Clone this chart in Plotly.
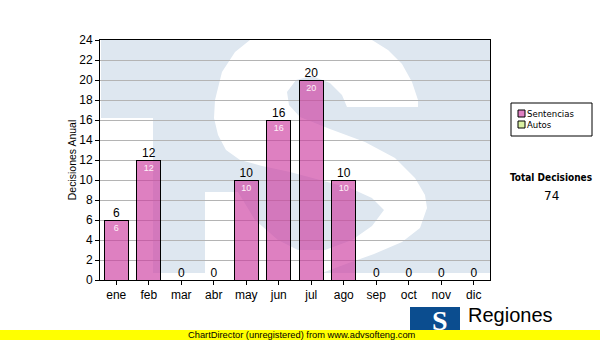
import plotly.graph_objects as go

# ---- data ----
months = ["ene", "feb", "mar", "abr", "may", "jun", "jul", "ago", "sep", "oct", "nov", "dic"]
sentencias = [6, 12, 0, 0, 10, 16, 20, 10, 0, 0, 0, 0]
autos = [0, 0, 0, 0, 0, 0, 0, 0, 0, 0, 0, 0]
y_ticks = list(range(0, 25, 2))
series_names = ["Sentencias", "Autos"]
total_label = "Total Decisiones"
y_title = "Decisiones Anual"

totals = [s + a for s, a in zip(sentencias, autos)]
grand_total = sum(totals)

# ---- geometry helpers (page pixels -> paper coords) ----
L, R, T, B = 100, 490, 40, 280
W, H = 600, 340


def PX(px):
    return (px - L) / (R - L)


def PY(py):
    return (B - py) / (B - T)


def path(points):
    return "M " + " L ".join(f"{PX(x):.4f},{PY(y):.4f}" for x, y in points) + " Z"


LIGHT = "#dee7f0"
PINK = "rgba(205,60,160,0.65)"
PINK_SOLID = "#de80c1"
GREEN = "#d9f0a3"
FONT = "Liberation Sans, Arial"
FONT2 = "DejaVu Sans Condensed, DejaVu Sans"

fig = go.Figure()

fig.add_trace(go.Bar(
    x=months, y=sentencias, name=series_names[0], showlegend=False,
    marker=dict(color=PINK, line=dict(color="black", width=1)),
    text=[str(v) if v > 0 else "" for v in sentencias],
    textposition="inside", insidetextanchor="end",
    textfont=dict(family=FONT, size=9, color="#fff0f8"),
    textangle=0,
))
fig.add_trace(go.Bar(
    x=months, y=autos, name=series_names[1], showlegend=False,
    marker=dict(color=GREEN, line=dict(color="black", width=1)),
    textposition="none",
))
fig.add_trace(go.Scatter(
    x=months, y=totals, mode="text", text=[str(v) for v in totals],
    textposition="top center", showlegend=False, hoverinfo="skip",
    textfont=dict(family=FONT, size=12, color="black"),
    cliponaxis=False,
))

shapes = []
# watermark background (T + block)
shapes.append(dict(type="path", xref="paper", yref="paper", layer="below",
                   path=path([(101, 40), (490, 40), (490, 273), (153, 273), (153, 118), (101, 118)]),
                   fillcolor=LIGHT, line=dict(width=0)))
# white S glyph
s_pts = [(250, 40), (372, 40), (388, 50), (402, 64), (412, 82), (418, 100), (418, 107),
         (347, 107), (342, 95), (330, 83), (312, 76), (296, 80), (287, 92), (289, 105),
         (300, 117), (330, 129), (365, 142), (395, 158), (415, 178), (425, 195), (427, 208),
         (420, 228), (402, 242), (374, 254), (346, 264), (322, 273),
         (205, 273), (205, 192), (238, 192), (255, 220), (278, 240), (298, 250), (325, 250),
         (352, 240), (372, 226), (384, 210),
         (372, 198), (350, 188), (320, 180), (290, 172), (262, 166), (240, 160), (226, 150),
         (218, 135), (214, 118), (215, 100), (222, 72), (235, 52)]
shapes.append(dict(type="path", xref="paper", yref="paper", layer="below",
                   path=path(s_pts), fillcolor="white", line=dict(width=0)))

# legend box and swatches
shapes.append(dict(type="rect", xref="paper", yref="paper", layer="above",
                   x0=PX(511), x1=PX(592), y0=PY(103), y1=PY(136),
                   fillcolor="white", line=dict(color="black", width=1)))
swatch_colors = [PINK_SOLID, GREEN]
for i, (nm, col) in enumerate(zip(series_names, swatch_colors)):
    yc = 113.5 + 11 * i
    shapes.append(dict(type="rect", xref="paper", yref="paper", layer="above",
                       x0=PX(518), x1=PX(525), y0=PY(yc - 3.5), y1=PY(yc + 3.5),
                       fillcolor=col, line=dict(color="black", width=1)))

# yellow footer band
shapes.append(dict(type="rect", xref="paper", yref="paper", layer="above",
                   x0=PX(0), x1=PX(600), y0=PY(330), y1=PY(340),
                   fillcolor="#ffff00", line=dict(width=0)))
# logo block
shapes.append(dict(type="rect", xref="paper", yref="paper", layer="above",
                   x0=PX(410), x1=PX(460), y0=PY(307), y1=PY(330),
                   fillcolor="#0b4d8f", line=dict(width=0)))

annotations = []
for i, nm in enumerate(series_names):
    yc = 113.5 + 11 * i
    annotations.append(dict(text=nm, x=PX(526), y=PY(yc), xref="paper", yref="paper",
                            showarrow=False, xanchor="left", yanchor="middle", borderpad=0,
                            font=dict(family=FONT2, size=9.5, color="black")))
annotations += [
    dict(text="<b>" + total_label + "</b>", x=PX(551), y=PY(177), xref="paper", yref="paper",
         showarrow=False, xanchor="center", yanchor="middle",
         font=dict(family=FONT2, size=10, color="black")),
    dict(text=str(grand_total), x=PX(551), y=PY(196), xref="paper", yref="paper",
         showarrow=False, xanchor="center", yanchor="middle",
         font=dict(family="DejaVu Sans", size=12, color="black")),
    dict(text="ChartDirector (unregistered) from www.advsofteng.com", x=PX(302), y=PY(335),
         xref="paper", yref="paper", showarrow=False, xanchor="center", yanchor="middle",
         font=dict(family=FONT, size=9.3, color="black")),
    dict(text="Regiones", x=PX(467), y=PY(315), xref="paper", yref="paper",
         showarrow=False, xanchor="left", yanchor="middle", borderpad=0,
         font=dict(family=FONT, size=20, color="black")),
    dict(text="<b>S</b>", x=PX(440), y=PY(320), xref="paper", yref="paper",
         showarrow=False, xanchor="center", yanchor="middle",
         font=dict(family="Liberation Serif, Times New Roman", size=28, color="white")),
]

fig.update_layout(
    width=W, height=H,
    margin=dict(l=L, r=W - R, t=T, b=H - B, pad=0, autoexpand=False),
    paper_bgcolor="white", plot_bgcolor="white",
    barmode="stack", bargap=0.26,
    showlegend=False,
    shapes=shapes, annotations=annotations,
    font=dict(family=FONT, size=12, color="black"),
)
fig.update_xaxes(
    type="category", range=[-0.5, len(months) - 0.5],
    showline=True, linecolor="black", linewidth=1, mirror=True,
    ticks="outside", ticklen=4, tickcolor="black", showgrid=False,
    tickfont=dict(family=FONT, size=12, color="black"),
)
fig.update_yaxes(
    range=[0, 24], tickvals=y_ticks, ticktext=[str(v) for v in y_ticks],
    showline=True, linecolor="black", linewidth=1, mirror=True,
    ticks="outside", ticklen=4, tickcolor="black",
    showgrid=True, gridcolor="#b4b4b4", gridwidth=1, zeroline=False,
    tickfont=dict(family=FONT, size=12, color="black"),
    title=dict(text=y_title, standoff=0,
               font=dict(family=FONT, size=10.5, color="black")),
    automargin=False,
)

fig.write_html("out.html")
